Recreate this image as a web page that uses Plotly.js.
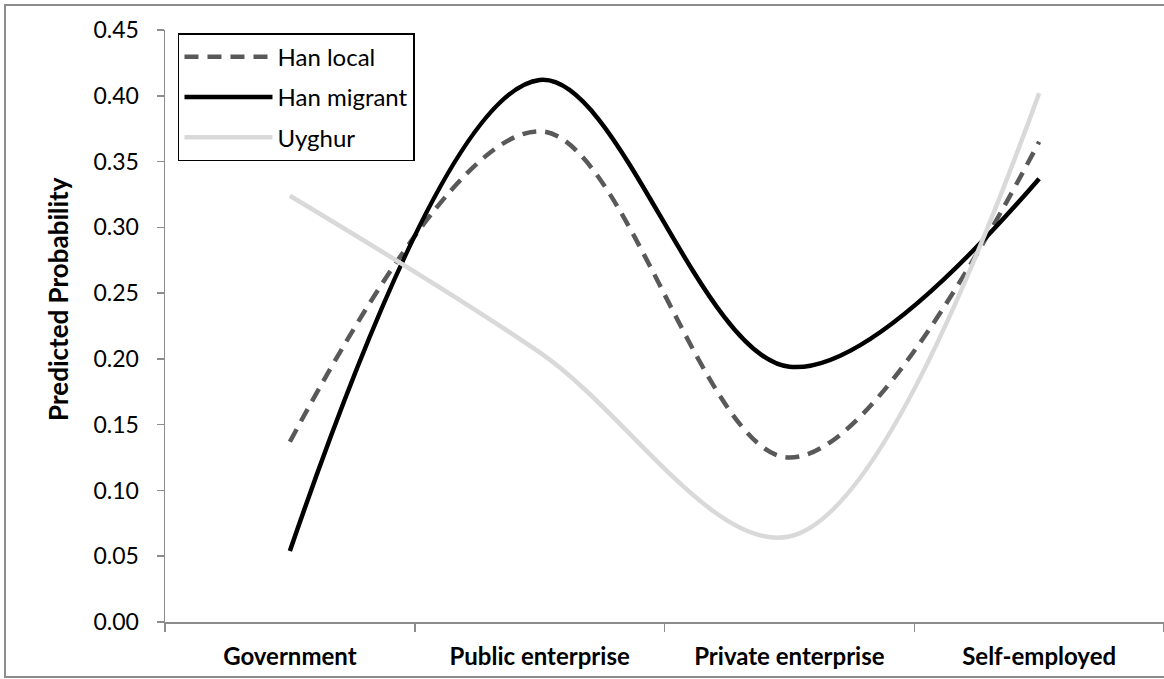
<!DOCTYPE html>
<html>
<head>
<meta charset="utf-8">
<script src="https://cdn.plot.ly/plotly-3.0.1.min.js"></script>
<style>
  html, body { margin: 0; padding: 0; background: #fff; overflow: hidden; }
  #frame { position: absolute; left: 4px; top: 4px; width: 1200px; height: 674px; border: 2px solid #8c8c8c; box-sizing: border-box; }
  #chart { position: absolute; left: 0; top: 0; width: 1164px; height: 679px; }
</style>
</head>
<body>
<div id="frame"></div>
<div id="chart"></div>
<script>
const categories = ["Government", "Public enterprise", "Private enterprise", "Self-employed"];
const hanLocal = [0.137, 0.373, 0.125, 0.365];
const hanMigrant = [0.054, 0.412, 0.194, 0.337];
const uyghur = [0.324, 0.205, 0.065, 0.402];
const yTicks = [0, 0.05, 0.10, 0.15, 0.20, 0.25, 0.30, 0.35, 0.40, 0.45];

const FONT = "Lato, 'Open Sans', sans-serif";

const traces = [
  { x: categories, y: hanLocal, name: "Han local", legendgroup: "a", type: "scatter", mode: "lines",
    line: { color: "#595959", width: 4.5, dash: "14px,9px", shape: "spline", smoothing: 1 } },
  { x: categories, y: hanMigrant, name: "Han migrant", legendgroup: "b", type: "scatter", mode: "lines",
    line: { color: "#000000", width: 4.5, shape: "spline", smoothing: 1 } },
  { x: categories, y: uyghur, name: "Uyghur", legendgroup: "c", type: "scatter", mode: "lines",
    line: { color: "#d9d9d9", width: 4.5, shape: "spline", smoothing: 1 } }
];

const layout = {
  width: 1164, height: 679,
  margin: { l: 165, r: 0, t: 29.5, b: 57.3 },
  paper_bgcolor: "rgba(0,0,0,0)",
  plot_bgcolor: "rgba(0,0,0,0)",
  font: { family: FONT, size: 22, color: "#000" },
  showlegend: true,
  legend: {
    x: 0.013, y: 0.9946, xanchor: "left", yanchor: "top",
    bgcolor: "#fff", bordercolor: "#000", borderwidth: 1.5,
    font: { family: FONT, size: 24, color: "#000" },
    traceorder: "grouped", tracegroupgap: 6, itemwidth: 88
  },
  xaxis: {
    type: "category", range: [-0.5, 3.5],
    showline: true, linecolor: "#8c8c8c", linewidth: 1.5,
    ticks: "outside", tickson: "boundaries", ticklen: 8, tickcolor: "#8c8c8c", tickwidth: 1.5,
    showgrid: false, zeroline: false,
    tickfont: { family: FONT, size: 24, color: "#000", weight: "bold" },
    ticklabelstandoff: 13
  },
  yaxis: {
    range: [0, 0.45], tickvals: yTicks, tickformat: ".2f",
    showline: true, linecolor: "#8c8c8c", linewidth: 1.5,
    ticks: "outside", ticklen: 7, tickcolor: "#8c8c8c", tickwidth: 1.5,
    showgrid: false, zeroline: false,
    tickfont: { family: FONT, size: 23, color: "#000" },
    ticklabelstandoff: 13
  },
  annotations: [{
    text: "<b>Predicted Probability</b>", textangle: -90,
    xref: "paper", yref: "paper", x: (58 - 165) / 999, y: (621.7 - 298.5) / 592.2,
    xanchor: "center", yanchor: "middle", showarrow: false,
    font: { family: FONT, size: 26, color: "#000" }
  }]
};

Plotly.newPlot("chart", traces, layout, { displayModeBar: false, staticPlot: true });
</script>
</body>
</html>
